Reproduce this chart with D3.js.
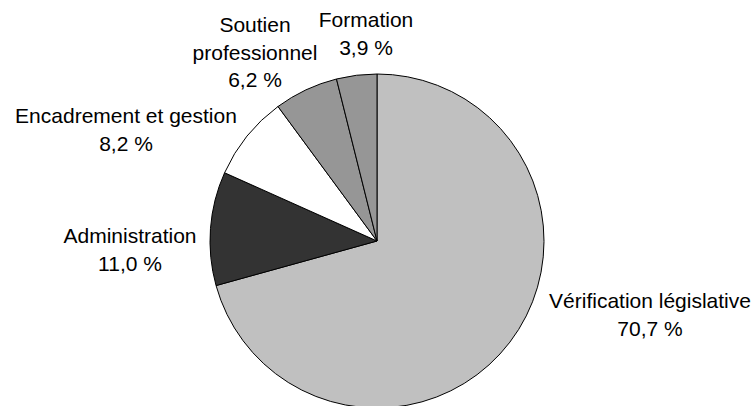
<!DOCTYPE html>
<html>
<head>
<meta charset="utf-8">
<script src="https://cdn.jsdelivr.net/npm/d3@7"></script>
<style>
  html, body { margin: 0; padding: 0; background: #fff; }
  svg { display: block; }
  .label text { font-family: "Liberation Sans", Arial, sans-serif; font-size: 21px; fill: #000; }
</style>
</head>
<body>
<svg width="755" height="406"></svg>
<script>
// data
const categories = ["Vérification législative", "Administration", "Encadrement et gestion", "Soutien professionnel", "Formation"];
const values = [70.7, 11.0, 8.2, 6.2, 3.9];
const colors = ["#c0c0c0", "#333333", "#ffffff", "#969696", "#969696"];

// label lines (split as in the original) and where each block sits
const labelLines = [
  ["Vérification législative"],
  ["Administration"],
  ["Encadrement et gestion"],
  ["Soutien", "professionnel"],
  ["Formation"]
];
const labelAnchor = [[650, 308], [130, 243], [126, 123], [255, 32], [366, 27]];

const onReady = () => {
  const svg = d3.select("svg");
  const cx = 377, cy = 241, radius = 167;
  const lineH = 27.5;

  const pie = d3.pie().sort(null).value(d => d);
  const arc = d3.arc().innerRadius(0).outerRadius(radius);
  const fmt = v => d3.format(".1f")(v).replace(".", ",") + " %";

  const g = svg.append("g").attr("transform", `translate(${cx},${cy})`);

  g.selectAll("path")
    .data(pie(values))
    .enter()
    .append("path")
    .attr("d", arc)
    .attr("fill", (d, i) => colors[i])
    .attr("stroke", "#000")
    .attr("stroke-width", 1)
    .attr("stroke-linejoin", "round");

  const labels = svg.append("g").attr("class", "label");
  categories.forEach((c, i) => {
    const lines = labelLines[i].concat([fmt(values[i])]);
    const [x, y] = labelAnchor[i];
    const t = labels.append("text").attr("text-anchor", "middle");
    lines.forEach((l, j) => {
      t.append("tspan").attr("x", x).attr("y", y + j * lineH).text(l);
    });
  });
};
document.addEventListener("DOMContentLoaded", onReady);
</script>
</body>
</html>
